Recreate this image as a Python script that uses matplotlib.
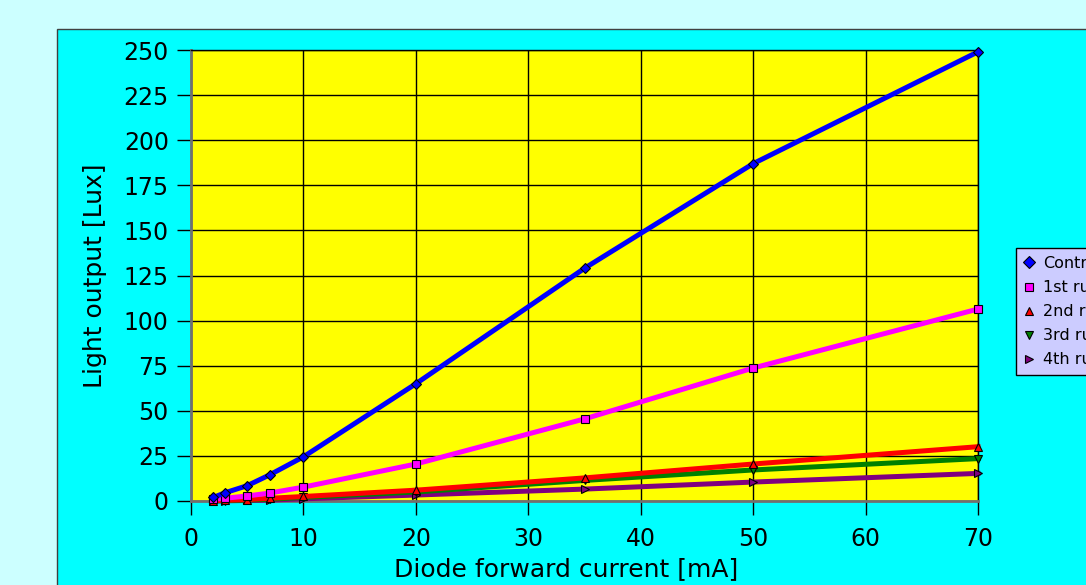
import numpy as np
import matplotlib
matplotlib.use('Agg')
import matplotlib.pyplot as plt
from matplotlib.patches import Rectangle
from matplotlib.lines import Line2D

# diode forward current [mA]
current = [2, 3, 5, 7, 10, 20, 35, 50, 70]

# light output [Lux] for each run
control = [2, 4.5, 8.5, 14.5, 24.5, 65, 129, 187, 249]
run1 = [1, 1.5, 2.8, 4.4, 7.7, 20.5, 45.5, 73.7, 106.4]
run2 = [0.2, 0.4, 0.8, 1.5, 2.5, 6, 12.8, 20.5, 30.1]
run3 = [0.1, 0.2, 0.5, 1.0, 2.0, 5, 11.4, 17.2, 23.5]
run4 = [0, 0.1, 0.3, 0.5, 1.2, 3.3, 6.6, 10.5, 15.3]

labels = ['Control', '1st run', '2nd run', '3rd run', '4th run']
colors = ['#0000ff', '#ff00ff', '#ff0000', '#008000', '#800080']
markers = ['D', 's', '^', 'v', '>']
msizes = [5, 6, 6, 6, 6]

xticks = [0, 10, 20, 30, 40, 50, 60, 70]
yticks = [0, 25, 50, 75, 100, 125, 150, 175, 200, 225, 250]

W, H = 1086, 585
fig = plt.figure(figsize=(W / 100, H / 100), dpi=100, facecolor='#ccffff')

# cyan chart panel
panel = Rectangle((57 / W, -0.1), 1.2, 1 - 29 / H + 0.1,
                  transform=fig.transFigure, facecolor='#00ffff',
                  edgecolor='#404040', lw=1, zorder=-10)
fig.patches.append(panel)

ax = fig.add_axes([191 / W, (H - 501) / H, (978 - 191) / W, (501 - 50) / H])
ax.set_zorder(5)
ax.set_facecolor('#ffff00')

series = [control, run1, run2, run3, run4]
# draw lower series first so the upper ones sit on top
for i in [4, 3, 2, 1, 0]:
    ax.plot(current, series[i], color=colors[i], lw=3.6, zorder=3 + (4 - i),
            marker=markers[i], markersize=msizes[i], markerfacecolor=colors[i],
            markeredgecolor='black', markeredgewidth=0.8, clip_on=False)

ax.set_xlim(0, 70)
ax.set_ylim(0, 250)
ax.set_xticks(xticks)
ax.set_yticks(yticks)
ax.grid(True, color='black', lw=1, zorder=1)
ax.set_axisbelow(True)
ax.tick_params(axis='both', labelsize=17, length=10, width=1, color='black')
ax.tick_params(axis='x', pad=9)
ax.tick_params(axis='y', pad=6)
for side in ['left', 'bottom']:
    ax.spines[side].set_color('#707070')
    ax.spines[side].set_linewidth(2)
for side in ['top', 'right']:
    ax.spines[side].set_color('black')
    ax.spines[side].set_linewidth(1)

ax.set_xlabel('Diode forward current [mA]', fontsize=18, labelpad=4, x=0.477)
ax.set_ylabel('Light output [Lux]', fontsize=18, labelpad=12)

handles = [Line2D([], [], linestyle='none', marker=markers[i], markersize=6,
                  markerfacecolor=colors[i], markeredgecolor='black',
                  markeredgewidth=0.8) for i in range(5)]
leg = fig.legend(handles, labels, loc='upper left',
                 bbox_to_anchor=(1016 / W, 1 - 248 / H), fontsize=11.5,
                 frameon=True, fancybox=False, edgecolor='black',
                 facecolor='#ccccff', framealpha=1, labelspacing=0.57,
                 handlelength=0.6, handletextpad=0.6, borderpad=0.5,
                 borderaxespad=0)
leg.set_zorder(6)
leg.get_frame().set_linewidth(1)

fig.savefig('out.png', dpi=100, facecolor=fig.get_facecolor())
